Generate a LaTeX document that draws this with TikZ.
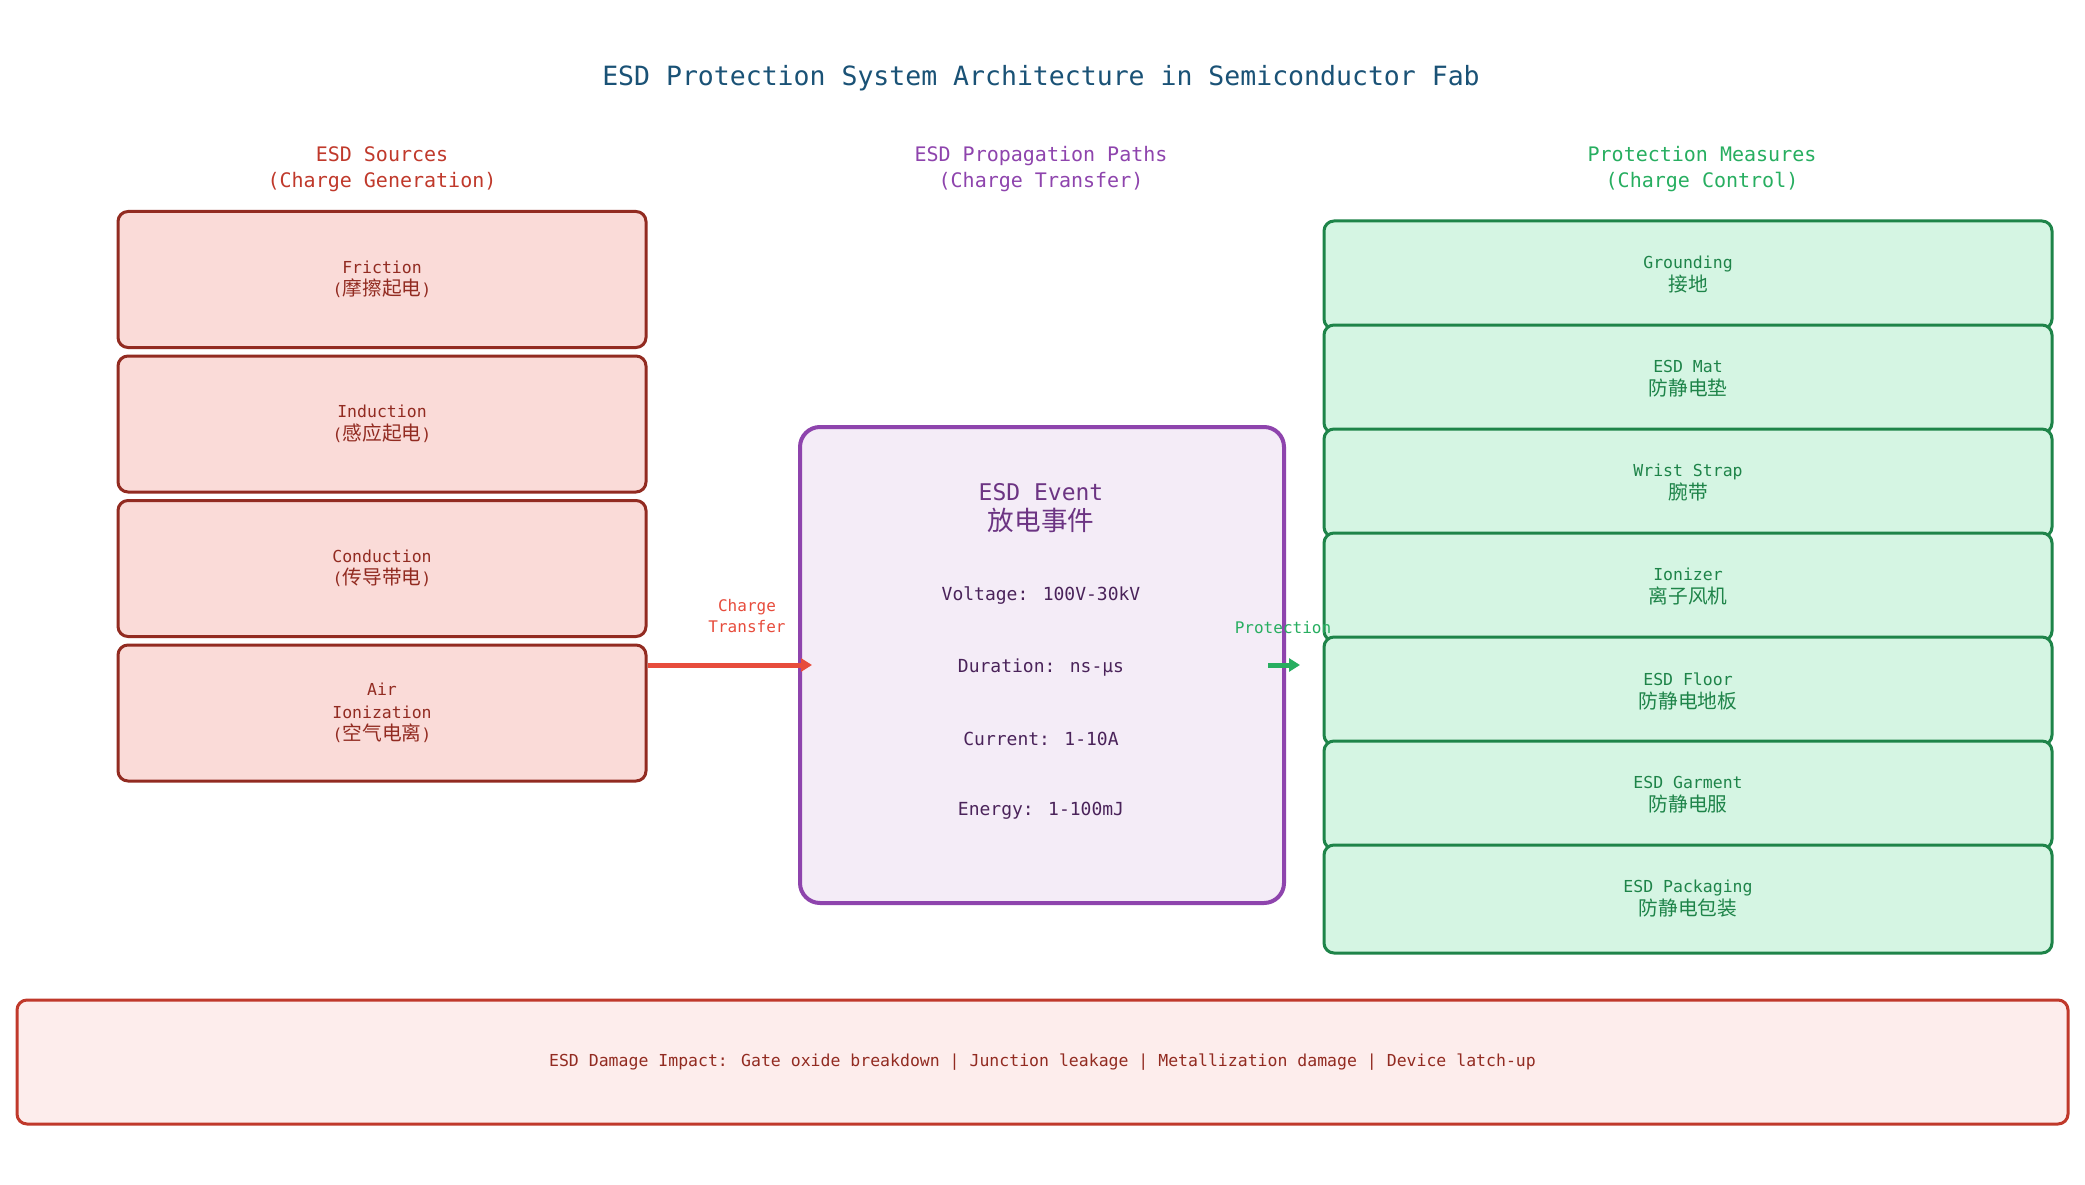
\documentclass[tikz,border=0pt]{standalone}
\usepackage{fontspec}
\setmainfont{DejaVu Sans Mono}
\newfontfamily\cjk{Noto Sans CJK SC}
\usetikzlibrary{arrows.meta}
\definecolor{titleblue}{HTML}{1A5276}
\definecolor{srcred}{HTML}{C0392B}
\definecolor{srcdark}{HTML}{922B21}
\definecolor{srcfill}{HTML}{FADBD8}
\definecolor{evpurple}{HTML}{8E44AD}
\definecolor{evfill}{HTML}{F4ECF7}
\definecolor{evtitle}{HTML}{6C3483}
\definecolor{evtext}{HTML}{4A235A}
\definecolor{protgreen}{HTML}{27AE60}
\definecolor{protdark}{HTML}{1E8449}
\definecolor{protfill}{HTML}{D5F5E3}
\definecolor{arrred}{HTML}{E74C3C}
\definecolor{dmgfill}{HTML}{FDEDEC}
\tikzset{
  srcbox/.style={draw=srcdark, fill=srcfill, line width=3pt, rounded corners=10pt,
    minimum width=528pt, minimum height=136pt, inner sep=0pt, align=center,
    text=srcdark, font=\fontsize{16.5}{22.5}\selectfont},
  protbox/.style={draw=protdark, fill=protfill, line width=3pt, rounded corners=10pt,
    minimum width=728pt, minimum height=108pt, inner sep=0pt, align=center,
    text=protdark, font=\fontsize{16.5}{23}\selectfont},
  evbox/.style={draw=evpurple, fill=evfill, line width=4pt, rounded corners=20pt,
    minimum width=484pt, minimum height=476pt, inner sep=0pt},
  dmgbox/.style={draw=srcred, fill=dmgfill, line width=3pt, rounded corners=10pt,
    minimum width=2051pt, minimum height=124pt, inner sep=0pt,
    text=srcdark, font=\fontsize{16.5}{20}\selectfont},
  header/.style={align=center, font=\fontsize{20}{26}\selectfont, inner sep=0pt},
  param/.style={text=evtext, font=\fontsize{18}{22}\selectfont, inner sep=0pt},
  lbl/.style={align=center, font=\fontsize{16}{21}\selectfont, inner sep=0pt},
  flow/.style={line width=5pt, -{Triangle[length=11pt,width=13pt]}},
}
\newcommand{\zh}[1]{{\cjk\fontsize{19.7}{23}\selectfont #1}}
\begin{document}
\begin{tikzpicture}[x=1pt,y=-1pt]
\useasboundingbox (0,0) rectangle (2085,1185);
\fill[white] (0,0) rectangle (2085,1185);

\node[text=titleblue, font=\fontsize{26.5}{30}\selectfont, inner sep=0pt] (title) at (1041,78.5) {ESD Protection System Architecture in Semiconductor Fab};

\node[header, text=srcred] (hsrc) at (382,169.5) {ESD Sources\\(Charge Generation)};
\node[header, text=evpurple] (hprop) at (1041,169.5) {ESD Propagation Paths\\(Charge Transfer)};
\node[header, text=protgreen] (hprot) at (1702,169.5) {Protection Measures\\(Charge Control)};

\node[srcbox] (src1) at (382,279.5) {Friction\\(\zh{摩擦起电})};
\node[srcbox] (src2) at (382,424) {Induction\\(\zh{感应起电})};
\node[srcbox] (src3) at (382,568.5) {Conduction\\(\zh{传导带电})};
\node[srcbox] (src4) at (382,713) {Air\\Ionization\\(\zh{空气电离})};

\node[evbox] (event) at (1042,665) {};
\node[align=center, text=evtitle, inner sep=0pt, font=\fontsize{23}{30}\selectfont] (evtitle) at (1041,508.5) {ESD Event\\{\cjk\fontsize{26.6}{30}\selectfont 放电事件}};
\node[param] (volt) at (1041,595.5) {Voltage: 100V-30kV};
\node[param] (dur) at (1041,667.5) {Duration: ns-μs};
\node[param] (cur) at (1041,739) {Current: 1-10A};
\node[param] (ener) at (1041,810.5) {Energy: 1-100mJ};

\node[protbox] (p1) at (1688,275) {Grounding\\\zh{接地}};
\node[protbox] (p2) at (1688,379) {ESD Mat\\\zh{防静电垫}};
\node[protbox] (p3) at (1688,483) {Wrist Strap\\\zh{腕带}};
\node[protbox] (p4) at (1688,587) {Ionizer\\\zh{离子风机}};
\node[protbox] (p5) at (1688,691) {ESD Floor\\\zh{防静电地板}};
\node[protbox] (p6) at (1688,795) {ESD Garment\\\zh{防静电服}};
\node[protbox] (p7) at (1688,899) {ESD Packaging\\\zh{防静电包装}};

\draw[flow, draw=arrred] (src4.east |- event.west) -- ([xshift=14pt]event.west);
\node[lbl, text=arrred] (lct) at (747,616) {Charge\\Transfer};

\coordinate (gs) at ([xshift=-18pt]event.east);
\draw[flow, draw=protgreen] (gs) -- ([xshift=14pt]event.east);
\node[lbl, text=protgreen] (lpr) at (1283,627.5) {Protection};

\node[dmgbox] (dmg) at (1042.5,1062) {ESD Damage Impact: Gate oxide breakdown | Junction leakage | Metallization damage | Device latch-up};
\end{tikzpicture}
\end{document}
